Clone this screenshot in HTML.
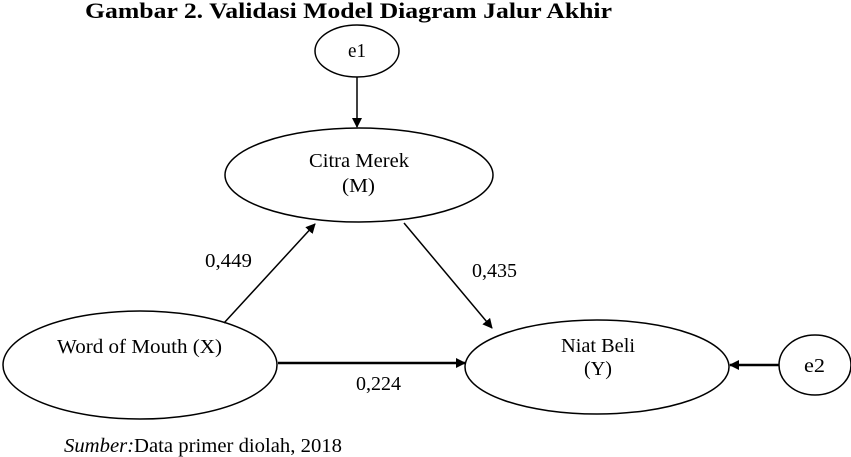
<!DOCTYPE html>
<html><head><meta charset="utf-8"><style>
html,body{margin:0;padding:0;background:#fff;width:851px;height:457px;overflow:hidden}
svg{display:block}
</style></head><body>
<svg width="851" height="457" viewBox="0 0 851 457" xmlns="http://www.w3.org/2000/svg" font-family="'Liberation Serif', 'Times New Roman', serif">
<defs><marker id="a" markerWidth="10" markerHeight="10" refX="9" refY="5" orient="auto" markerUnits="userSpaceOnUse"><path d="M0,0 L10,5 L0,10 z" fill="#000"/></marker></defs>
<text x="85" y="18" font-size="22" font-weight="bold" textLength="527" lengthAdjust="spacingAndGlyphs">Gambar 2. Validasi Model Diagram Jalur Akhir</text>
<g fill="none" stroke="#000" stroke-width="1.5">
<ellipse cx="357" cy="51" rx="42" ry="26"/>
<ellipse cx="359" cy="175" rx="134" ry="47"/>
<ellipse cx="140" cy="365" rx="137" ry="54"/>
<ellipse cx="597" cy="367" rx="132" ry="47"/>
<ellipse cx="815" cy="365" rx="36" ry="30"/>
<line x1="357" y1="77" x2="357" y2="127" marker-end="url(#a)"/>
<line x1="224" y1="323" x2="315" y2="224" marker-end="url(#a)"/>
<line x1="404" y1="223" x2="492" y2="328" marker-end="url(#a)"/>
<line x1="278" y1="363" x2="465" y2="363" stroke-width="2.5" marker-end="url(#a)"/>
<line x1="779" y1="365" x2="730" y2="365" stroke-width="2.5" marker-end="url(#a)"/>
</g>
<g font-size="20">
<text x="348" y="57" textLength="18" lengthAdjust="spacingAndGlyphs">e1</text>
<text x="309" y="167" textLength="100" lengthAdjust="spacingAndGlyphs">Citra Merek</text>
<text x="342" y="192" textLength="33" lengthAdjust="spacingAndGlyphs">(M)</text>
<text x="57" y="353" textLength="165" lengthAdjust="spacingAndGlyphs">Word of Mouth (X)</text>
<text x="561" y="352" textLength="74" lengthAdjust="spacingAndGlyphs">Niat Beli</text>
<text x="584" y="375" textLength="28" lengthAdjust="spacingAndGlyphs">(Y)</text>
<text x="804" y="372" textLength="21" lengthAdjust="spacingAndGlyphs">e2</text>
<text x="205" y="267" textLength="47" lengthAdjust="spacingAndGlyphs">0,449</text>
<text x="472" y="277" textLength="45" lengthAdjust="spacingAndGlyphs">0,435</text>
<text x="356" y="390" textLength="45" lengthAdjust="spacingAndGlyphs">0,224</text>
<text x="64" y="452" textLength="278" lengthAdjust="spacingAndGlyphs"><tspan font-style="italic">Sumber:</tspan>Data primer diolah, 2018</text>
</g>
</svg>
</body></html>
